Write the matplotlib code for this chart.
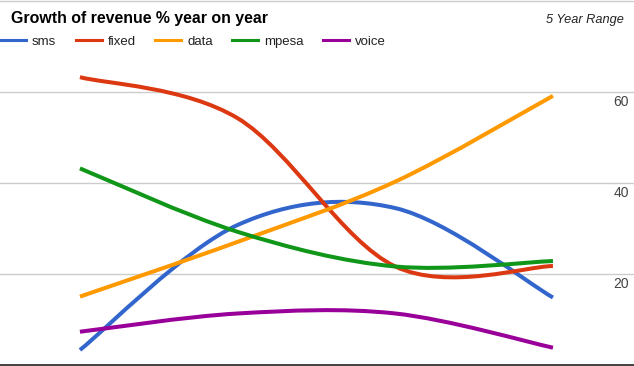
import matplotlib
matplotlib.use("Agg")
import matplotlib.pyplot as plt
import matplotlib.transforms as mtransforms
from matplotlib.lines import Line2D
from matplotlib.path import Path
from matplotlib.patches import PathPatch

# data
years = [0, 1, 2, 3]
series_names = ["sms", "fixed", "data", "mpesa", "voice"]
sms = [3.4, 30.8, 34.5, 14.9]
fixed = [63.2, 54.2, 21.7, 21.8]
data = [15.1, 27.1, 40.3, 59.1]
mpesa = [43.2, 29.3, 21.7, 22.9]
voice = [7.4, 11.4, 11.4, 3.9]
y_ticks = [20, 40, 60]

colors = ["#3366cc", "#dc3912", "#ff9900", "#109618", "#990099"]
font = "Liberation Sans"


def smooth_path(xs, ys):
    """Catmull-Rom style cubic bezier through the points (like curveType: function)"""
    n = len(xs)
    verts = [(xs[0], ys[0])]
    codes = [Path.MOVETO]
    for i in range(n - 1):
        i0 = max(i - 1, 0)
        i3 = min(i + 2, n - 1)
        c1 = (xs[i] + (xs[i + 1] - xs[i0]) / 6, ys[i] + (ys[i + 1] - ys[i0]) / 6)
        c2 = (xs[i + 1] - (xs[i3] - xs[i]) / 6, ys[i + 1] - (ys[i3] - ys[i]) / 6)
        verts += [c1, c2, (xs[i + 1], ys[i + 1])]
        codes += [Path.CURVE4] * 3
    return Path(verts, codes)


fig = plt.figure(figsize=(6.34, 3.66), dpi=100)
ax = fig.add_axes([0, 0, 1, 1])
ax.set_xlim(-0.507, 3.514)
ax.set_ylim(-0.11, 80.11)
ax.axis("off")

for g in y_ticks + [80]:
    ax.axhline(g, color="#cccccc", lw=1, zorder=1)
ax.axhline(0, color="#333333", lw=1.3, zorder=4)

for vals, c in zip([sms, fixed, data, mpesa, voice], colors):
    patch = PathPatch(smooth_path(years, vals), facecolor="none", edgecolor=c,
                      lw=2.9, capstyle="butt", zorder=3)
    ax.add_patch(patch)

# tick labels sit just under the gridlines, right aligned
off = mtransforms.offset_copy(ax.transData, fig=fig, x=0, y=-10, units="dots")
lab_tr = mtransforms.blended_transform_factory(ax.transAxes, off)
for t in y_ticks:
    ax.text(629 / 634, t, str(t), transform=lab_tr, ha="right", va="center",
            fontsize=10, color="#444444", family=font)

fig.text(11 / 634, 1 - 18 / 366, "Growth of revenue % year on year", ha="left", va="center",
         fontsize=11.4, fontweight="bold", color="#000000", family=font)
fig.text(624 / 634, 1 - 20 / 366, "5 Year Range", ha="right", va="center",
         fontsize=9.2, style="italic", color="#222222", family=font)

handles = [Line2D([], [], color=c, lw=2.2) for c in colors]
leg = fig.legend(handles, series_names, loc="center left", bbox_to_anchor=(0, 1 - 42 / 366),
                 ncol=5, frameon=False, handlelength=1.97, handletextpad=0.45,
                 columnspacing=1.48, borderaxespad=0, borderpad=0,
                 prop={"family": font, "size": 9.5})
for txt in leg.get_texts():
    txt.set_color("#222222")

fig.savefig("out.png", dpi=100)
